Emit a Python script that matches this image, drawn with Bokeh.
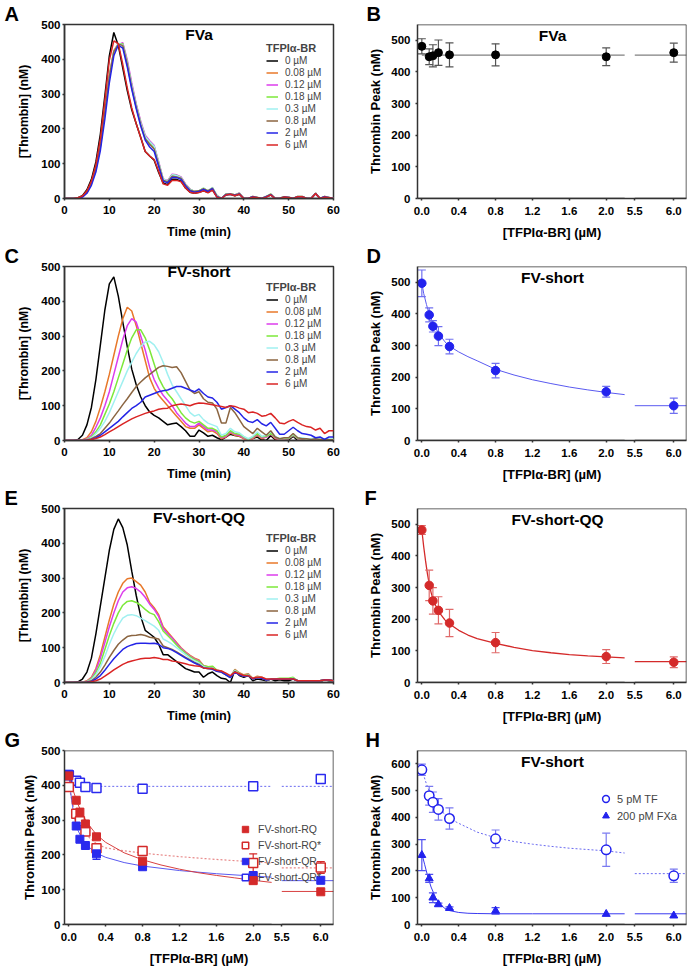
import numpy as np
from bokeh.plotting import figure
from bokeh.layouts import column, row
from bokeh.models import Label, Legend, LegendItem, FixedTicker, Span, Arrow, Range1d
from bokeh.embed import file_html
from bokeh.resources import INLINE

FONT = "Liberation Sans"
AX = "#333333"

# ---------------- time courses (min) ----------------
TIME = list(range(61))
CONC_LABELS = ["0 µM", "0.08 µM", "0.12 µM", "0.18 µM", "0.3 µM", "0.8 µM", "2 µM", "6 µM"]
CURVE_COLORS = ["#000000", "#E8782A", "#DC3CEC", "#7CE83A", "#A0F0F0", "#8B6541", "#2424E6", "#DA2424"]

# Panel A: FVa
A_0 = [0,0,0,2,8,25,55,105,185,295, 410,477,440,375,310,255,215,175,135,122, 110,75,45,40,55,55,50,30,18,15, 18,22,18,25,5,0,10,12,8,12, 0,0,5,2,0,5,10,0,0,5, 3,0,5,5,0,0,15,0,5,2, 0]
A_008 = [0,0,0,1,5,18,45,88,155,255, 355,425,445,440,388,322,265,215,178,162, 148,102,55,50,68,66,60,40,25,20, 22,28,22,30,8,0,12,14,10,15, 0,0,6,3,0,6,12,0,0,5, 4,0,6,6,0,0,15,0,6,3, 0]
A_012 = [0,0,0,1,5,17,42,82,148,245, 345,418,442,448,398,332,272,222,182,166, 152,106,56,51,70,68,62,42,27,20, 22,28,22,30,8,0,12,14,10,16, 0,0,6,3,0,6,12,0,0,5, 4,0,6,6,0,0,15,0,6,3, 0]
A_018 = [0,0,0,1,5,18,44,85,150,248, 348,420,444,445,392,326,268,218,178,162, 148,102,55,50,68,66,60,40,26,20, 22,30,22,30,8,0,13,14,10,15, 0,0,6,3,0,6,13,0,0,5, 4,0,6,6,0,0,15,0,6,3, 0]
A_03 = [0,0,0,1,5,18,44,86,152,250, 350,422,445,442,390,324,266,216,178,163, 150,103,56,50,68,66,60,40,26,20, 22,30,22,32,8,0,13,14,10,15, 0,0,6,3,0,6,12,0,0,5, 4,0,6,6,0,0,15,0,6,3, 0]
A_08 = [0,0,0,1,5,18,45,87,152,250, 350,422,443,440,386,318,262,212,172,156, 142,98,52,48,64,62,58,38,24,20, 22,28,22,30,6,0,12,13,10,14, 0,0,5,3,0,5,12,0,0,5, 3,0,5,5,0,0,14,0,5,2, 0]
A_2 = [0,0,0,1,4,15,38,76,138,228, 332,410,441,432,378,314,258,208,168,148, 135,92,50,45,60,60,55,36,22,18, 20,26,20,28,5,0,11,12,9,13, 0,0,5,2,0,5,11,0,0,4, 3,0,5,5,0,0,14,0,5,2, 0]
A_6 = [0,0,0,2,7,22,50,97,172,282, 398,453,445,385,318,260,215,175,135,122, 112,78,42,38,52,52,48,30,18,15, 17,22,16,24,4,0,10,12,8,12, 0,0,4,2,0,4,10,0,0,4, 3,0,5,5,0,0,14,0,4,2, 0]

# Panel C: FV-short
C_0 = [0,0,0,3,15,45,95,175,275,375, 450,470,415,340,270,205,160,125,100,82, 72,65,55,45,48,50,40,28,12,12, 30,22,12,15,8,2,10,18,14,12, 8,0,6,10,2,0,14,2,0,0, 2,12,0,0,0,0,0,0,0,0, 0]
C_008 = [0,0,0,0,2,8,25,55,95,140, 190,245,300,350,383,372,330,280,230,180, 150,130,115,100,85,70,55,40,35,35, 45,35,25,28,20,5,10,22,15,12, 5,0,5,15,5,10,18,5,3,5, 5,15,5,5,3,3,5,2,3,2, 2]
C_012 = [0,0,0,0,1,5,15,38,65,100, 140,190,240,290,330,350,340,300,260,210, 175,150,130,115,100,80,65,50,40,40, 50,40,30,30,25,8,12,25,18,15, 8,2,8,18,8,10,18,8,3,5, 5,15,5,5,3,3,5,2,3,2, 2]
C_018 = [0,0,0,0,1,4,10,25,45,75, 105,140,180,220,260,295,318,318,295,260, 220,180,155,135,120,100,80,65,55,50, 55,45,35,35,28,10,15,28,20,18, 10,3,10,20,10,12,20,10,4,6, 6,16,6,6,4,4,6,3,4,3, 3]
C_03 = [0,0,0,0,1,3,8,20,35,55, 80,110,140,170,200,225,250,270,283,285, 275,255,225,190,160,140,120,100,80,70, 75,60,50,45,40,15,20,35,25,22, 12,5,12,25,12,15,25,12,5,8, 8,18,8,8,5,5,8,4,5,4, 4]
C_08 = [0,0,0,0,1,2,5,12,20,35, 50,68,85,103,120,138,155,168,180,190, 200,210,215,213,210,212,195,170,145,135, 140,120,110,108,90,50,50,95,80,60, 40,30,20,35,25,15,28,10,5,8, 8,20,8,5,5,3,5,3,3,2, 2]
C_2 = [0,0,0,0,0,1,3,8,15,25, 35,45,55,68,80,92,100,110,125,130, 135,140,143,145,150,155,155,150,145,140, 148,135,125,122,110,90,95,100,90,80, 65,55,52,60,48,42,52,35,18,18, 28,38,28,20,18,15,8,10,3,10, 10]
C_6 = [0,0,0,0,0,1,3,6,10,17, 25,32,40,48,55,62,68,73,78,82, 85,90,92,93,100,103,105,103,100,105, 108,107,105,103,100,98,95,100,98,93, 90,80,82,78,70,72,78,65,50,48, 55,60,52,45,40,38,30,35,20,28, 28]

# Panel E: FV-short-QQ
E_0 = [0,0,0,2,10,30,70,140,220,300, 380,440,470,445,395,320,250,190,150,140, 130,110,80,80,70,60,50,40,35,30, 30,15,25,30,20,12,10,0,35,20, 15,20,5,10,8,5,10,5,8,5, 5,10,5,3,3,5,5,3,8,5, 5]
E_008 = [0,0,0,0,1,5,15,40,80,130, 180,225,260,285,298,300,290,280,260,230, 215,195,160,145,130,115,100,88,78,70, 65,48,45,45,35,33,25,15,38,28, 22,25,12,18,15,8,10,10,10,10, 10,12,5,5,5,5,5,5,8,8, 5]
E_012 = [0,0,0,0,1,4,12,35,70,115, 160,200,235,260,272,275,270,260,245,225, 210,190,155,140,128,112,98,86,76,68, 62,48,44,44,35,32,24,15,36,26, 20,24,10,16,14,8,10,10,10,10, 10,12,5,5,5,5,5,5,8,8, 5]
E_018 = [0,0,0,0,1,3,10,28,55,95, 135,170,200,222,233,235,230,222,210,200, 195,175,148,135,122,108,95,84,74,66, 60,48,45,47,35,32,24,15,36,26, 20,24,10,16,14,8,10,10,12,12, 12,15,5,5,5,5,5,5,8,8, 5]
E_03 = [0,0,0,0,1,2,8,22,45,75, 110,140,165,185,193,195,192,185,178,170, 162,150,125,118,110,100,90,80,70,62, 56,45,42,42,33,30,22,14,34,24, 18,22,10,15,13,8,10,10,10,10, 10,12,5,5,5,5,5,5,8,8, 5]
E_08 = [0,0,0,0,0,2,5,15,30,50, 72,92,110,122,132,135,136,138,135,130, 128,125,105,100,95,88,80,72,65,58, 52,42,40,40,32,30,22,14,32,23, 18,20,10,14,12,7,9,9,10,10, 10,11,5,5,5,5,5,5,8,7, 5]
E_2 = [0,0,0,0,0,1,3,10,20,35, 52,68,82,95,103,108,112,113,113,112, 113,110,100,98,93,86,78,70,63,56, 50,42,40,38,32,30,22,14,30,22, 18,20,10,14,12,7,9,9,9,9, 9,10,5,5,5,5,5,5,7,7, 5]
E_6 = [0,0,0,0,0,0,2,5,10,18, 27,36,44,52,58,62,65,68,70,70, 72,70,66,66,62,60,57,54,50,48, 47,42,40,40,35,33,27,20,30,25, 20,20,12,15,15,10,10,10,10,10, 10,10,5,5,5,5,5,5,7,7, 5]

A_SERIES = [A_0, A_008, A_012, A_018, A_03, A_08, A_2, A_6]
C_SERIES = [C_0, C_008, C_012, C_018, C_03, C_08, C_2, C_6]
E_SERIES = [E_0, E_008, E_012, E_018, E_03, E_08, E_2, E_6]

# ---------------- peak vs concentration ----------------
TFPI = [0.0, 0.08, 0.12, 0.18, 0.3, 0.8, 2.0, 6.0]
XTICK_VALUES = [0.0, 0.4, 0.8, 1.2, 1.6, 2.0, 5.5, 6.0]
XTICK_LABELS = ["0.0", "0.4", "0.8", "1.2", "1.6", "2.0", "5.5", "6.0"]

B_PEAK = [481, 448, 451, 461, 454, 454, 448, 461]
B_ERR = [24, 25, 35, 40, 38, 35, 28, 30]
B_FIT_X = [0.0, 2.2]
B_FIT_Y = [453, 453]
B_FIT2 = 453

D_PEAK = [497, 397, 361, 330, 297, 221, 154, 110]
D_ERR = [42, 22, 18, 30, 23, 23, 17, 24]
D_FIT_X = [0, 0.02, 0.05, 0.08, 0.12, 0.18, 0.25, 0.3, 0.4, 0.5, 0.6, 0.8, 1.0, 1.2, 1.4, 1.6, 1.8, 2.0, 2.2]
D_FIT_Y = [497, 465, 430, 400, 370, 340, 312, 298, 280, 265, 252, 225, 207, 192, 180, 169, 160, 152, 145]
D_FIT2 = 110

F_PEAK = [482, 307, 258, 228, 188, 126, 82, 64]
F_ERR = [14, 48, 42, 43, 43, 32, 22, 17]
F_FIT_X = [0, 0.02, 0.04, 0.06, 0.08, 0.1, 0.13, 0.18, 0.25, 0.3, 0.4, 0.5, 0.6, 0.8, 1.0, 1.2, 1.4, 1.6, 1.8, 2.0, 2.2]
F_FIT_Y = [482, 430, 385, 345, 312, 285, 255, 225, 198, 185, 165, 150, 139, 124, 111, 101, 94, 88, 84, 81, 78]
F_FIT2 = 66

G_RQ = [427, 357, 323, 289, 252, 182, 126, 94]
G_RQS = [395, 318, 297, 267, 219, 211, 177, 164]
G_QR = [432, 283, 245, 227, 203, 166, 140, 127]
G_QRS = [429, 413, 407, 395, 392, 390, 397, 418]
G_RQ_ERR = [0, 0, 0, 0, 0, 0, 8, 0]
G_RQS_ERR = [0, 0, 0, 0, 0, 0, 26, 17]
G_QR_ERR = [0, 0, 0, 0, 16, 0, 12, 0]
G_RQ_FIT_X = [0, 0.03, 0.06, 0.1, 0.15, 0.2, 0.3, 0.4, 0.6, 0.8, 1.0, 1.2, 1.4, 1.6, 1.8, 2.0, 2.2]
G_RQ_FIT_Y = [430, 400, 375, 345, 315, 292, 258, 236, 206, 186, 171, 159, 149, 141, 134, 127, 121]
G_RQ_FIT2 = 95
G_RQS_FIT_X = [0, 0.03, 0.06, 0.1, 0.15, 0.2, 0.3, 0.4, 0.6, 0.8, 1.2, 1.6, 2.0, 2.2]
G_RQS_FIT_Y = [400, 360, 330, 300, 275, 255, 232, 220, 212, 205, 195, 187, 180, 177]
G_RQS_FIT2 = 163
G_QR_FIT_X = [0, 0.02, 0.04, 0.06, 0.08, 0.1, 0.15, 0.2, 0.3, 0.4, 0.6, 0.8, 1.2, 1.6, 2.0, 2.2]
G_QR_FIT_Y = [432, 380, 340, 310, 288, 270, 243, 226, 205, 193, 178, 168, 155, 146, 139, 136]
G_QR_FIT2 = 126
G_QRS_FIT_X = [0, 0.05, 0.1, 0.2, 2.2]
G_QRS_FIT_Y = [428, 408, 400, 397, 397]
G_QRS_FIT2 = 397

H_TF = [578, 481, 457, 430, 396, 320, 279, 182]
H_TF_ERR = [21, 35, 38, 40, 40, 33, 62, 25]
H_FXA = [259, 172, 100, 75, 61, 51, 39, 33]
H_FXA_ERR = [58, 15, 18, 5, 5, 12, 0, 0]
H_TF_FIT_X = [0, 0.05, 0.1, 0.15, 0.2, 0.3, 0.4, 0.6, 0.8, 1.0, 1.2, 1.4, 1.6, 1.8, 2.0, 2.2]
H_TF_FIT_Y = [578, 525, 480, 450, 428, 396, 378, 345, 324, 310, 300, 292, 285, 280, 275, 267]
H_TF_FIT2 = 190
H_FXA_FIT_X = [0, 0.03, 0.06, 0.1, 0.15, 0.2, 0.25, 0.3, 0.4, 0.5, 0.6, 0.8, 1.2, 2.2]
H_FXA_FIT_Y = [265, 225, 185, 140, 100, 75, 60, 52, 45, 42, 41, 40, 40, 40]
H_FXA_FIT2 = 40

# broken x axis mapping
BREAK_LO, BREAK_HI = 2.2, 5.5
GAP = 0.11
SCALE2 = 0.846
U_START, U_END = -0.047, 2.871
SEG2_X = [5.5, 6.165]


def u(x):
    x = np.asarray(x, dtype=float)
    return np.where(x <= BREAK_LO, x, BREAK_LO + GAP + (x - BREAK_HI) * SCALE2)


LW, RW = 344, 344
ROW_H = 242
TOP = 23
BOT = 40
FH = ROW_H - TOP - BOT


def style_axis(ax, label, label_size, label_standoff, tick_standoff):
    ax.axis_label = label
    ax.axis_line_color = AX
    ax.axis_line_width = 1.5
    ax.major_tick_line_color = AX
    ax.major_tick_line_width = 1.5
    ax.major_tick_in = 0
    ax.major_tick_out = 2
    ax.minor_tick_line_color = None
    ax.major_label_text_font = FONT
    ax.major_label_text_font_style = "bold"
    ax.major_label_text_font_size = "11.5px"
    ax.major_label_text_color = "black"
    ax.major_label_text_line_height = 1.0
    ax.major_label_standoff = tick_standoff
    ax.axis_label_text_font = FONT
    ax.axis_label_text_font_style = "bold"
    ax.axis_label_text_font_size = label_size
    ax.axis_label_text_color = "black"
    ax.axis_label_text_line_height = 1.0
    ax.axis_label_standoff = label_standoff


def add_text(p, text, x, y, size, bold=True, align="left", baseline="alphabetic"):
    p.add_layout(Label(x=x, y=y, x_units="screen", y_units="screen", text=text,
                       text_font=FONT, text_font_size=size,
                       text_font_style="bold" if bold else "normal",
                       text_align=align, text_baseline=baseline, text_color="black"))


def base_fig(w, left, right, xr, yr, letter, letter_off):
    p = figure(width=w, height=ROW_H, x_range=xr, y_range=yr, output_backend="svg",
               toolbar_location=None, min_border_left=left, min_border_right=right,
               min_border_top=TOP, min_border_bottom=BOT)
    p.grid.visible = False
    p.background_fill_color = "white"
    p.border_fill_color = "white"
    p.title.text = letter
    p.title.align = "left"
    p.title.offset = letter_off
    p.title.standoff = 0
    p.title.text_font = FONT
    p.title.text_font_size = "20px"
    p.title.text_font_style = "bold"
    p.title.text_color = "black"
    return p


def broken_x(p, ymax):
    p.outline_line_color = None
    p.xaxis.ticker = FixedTicker(ticks=[float(v) for v in u(XTICK_VALUES)],
                                 minor_ticks=[float(u(BREAK_LO)), float(u(BREAK_HI))])
    p.xaxis.major_label_overrides = {float(k): s for k, s in zip(u(XTICK_VALUES), XTICK_LABELS)}
    xa = p.xaxis[0]
    xa.axis_line_color = None
    xa.minor_tick_line_color = AX
    xa.minor_tick_line_width = 1.3
    xa.minor_tick_in = 4
    xa.minor_tick_out = 3
    p.add_layout(Span(location=ymax, dimension="width", line_color=AX, line_width=1.5))
    p.add_layout(Span(location=U_END, dimension="height", line_color=AX, line_width=1.5))
    p.add_layout(Arrow(end=None, x_start=U_START, y_start=0, x_end=float(u(BREAK_LO)), y_end=0,
                       line_color=AX, line_width=1.5))
    p.add_layout(Arrow(end=None, x_start=float(u(BREAK_HI)), y_start=0, x_end=U_END, y_end=0,
                       line_color=AX, line_width=1.5))


def time_panel(letter, title, series, title_dy, leg_vy):
    p = base_fig(LW, 64, 11, Range1d(0, 60), Range1d(0, 500), letter, -60)
    p.outline_line_color = AX
    p.outline_line_width = 1.5
    p.xaxis.ticker = FixedTicker(ticks=[0, 10, 20, 30, 40, 50, 60])
    p.yaxis.ticker = FixedTicker(ticks=[0, 100, 200, 300, 400, 500])
    style_axis(p.xaxis[0], "Time (min)", "12.7px", 8, 5)
    style_axis(p.yaxis[0], "[Thrombin] (nM)", "12.2px", 7, 2)
    items = []
    for lab, col, ys in zip(CONC_LABELS, CURVE_COLORS, series):
        r = p.line(TIME, ys, line_color=col, line_width=1.5)
        items.append(LegendItem(label=lab, renderers=[r]))
    leg = Legend(items=items, location=(202, leg_vy), title="TFPIα-BR",
                 title_text_font=FONT, title_text_font_style="bold", title_text_font_size="11px",
                 title_standoff=1, label_text_font=FONT, label_text_font_size="10px",
                 glyph_width=12, glyph_height=11, label_height=11, spacing=1,
                 label_standoff=7, padding=0, margin=0, border_line_color=None,
                 background_fill_alpha=0)
    p.add_layout(leg)
    add_text(p, title, 134.5, FH - title_dy, "15.5px", align="center", baseline="middle")
    return p


def conc_panel(letter, title, ymax, yticks, title_x=135, letter_off=-51):
    p = base_fig(RW, 73, 2, Range1d(U_START, U_END), Range1d(0, ymax), letter, letter_off)
    broken_x(p, ymax)
    p.yaxis.ticker = FixedTicker(ticks=yticks)
    style_axis(p.xaxis[0], "[TFPIα-BR] (µM)", "13px", 7, 5)
    style_axis(p.yaxis[0], "Thrombin Peak (nM)", "13px", 5, 5)
    if title:
        add_text(p, title, title_x, FH - 16, "15.5px", align="center", baseline="middle")
    return p


def fit(p, fx, fy, level, color, width=1.0, dash="solid"):
    p.line(u(fx), fy, line_color=color, line_width=width, line_dash=dash)
    p.line(u(SEG2_X), [level, level], line_color=color, line_width=width, line_dash=dash)


def errbars(p, ys, es, color, cap=8, width=1.2):
    keep = [i for i, e in enumerate(es) if e > 0]
    xx = u([TFPI[i] for i in keep])
    lo = [ys[i] - es[i] for i in keep]
    hi = [ys[i] + es[i] for i in keep]
    p.segment(x0=xx, y0=lo, x1=xx, y1=hi, line_color=color, line_width=width)
    p.scatter(xx, lo, marker="dash", size=cap, line_color=color, line_width=width)
    p.scatter(xx, hi, marker="dash", size=cap, line_color=color, line_width=width)


# ---- A, C, E ----
pA = time_panel("A", "FVa", A_SERIES, 15, 48)
pC = time_panel("C", "FV-short", C_SERIES, 10, 51)
pE = time_panel("E", "FV-short-QQ", E_SERIES, 14, 42)

# ---- B ----
pB = conc_panel("B", "FVa", 550, [0, 100, 200, 300, 400, 500])
fit(pB, B_FIT_X, B_FIT_Y, B_FIT2, "#808080", 1.2)
errbars(pB, B_PEAK, B_ERR, "#555555")
pB.scatter(u(TFPI), B_PEAK, marker="circle", size=8, fill_color="black", line_color="black")

# ---- D ----
pD = conc_panel("D", "FV-short", 550, [0, 100, 200, 300, 400, 500])
fit(pD, D_FIT_X, D_FIT_Y, D_FIT2, "#5A5AF0", 1.0)
errbars(pD, D_PEAK, D_ERR, "#7070F0")
pD.scatter(u(TFPI), D_PEAK, marker="circle", size=8.5, fill_color="#2222EE", line_color="#2222EE")

# ---- F ----
pF = conc_panel("F", "FV-short-QQ", 550, [0, 100, 200, 300, 400, 500], title_x=140, letter_off=-53)
fit(pF, F_FIT_X, F_FIT_Y, F_FIT2, "#D42A2A", 1.3)
errbars(pF, F_PEAK, F_ERR, "#E06A6A")
pF.scatter(u(TFPI), F_PEAK, marker="circle", size=8.5, fill_color="#D42A2A", line_color="#D42A2A")

# ---- G ----
RED, BLUE = "#D42A2A", "#2A2AEE"
pG = base_fig(LW, 64, 11, Range1d(U_START, U_END), Range1d(0, 500), "G", -60)
broken_x(pG, 500)
pG.yaxis.ticker = FixedTicker(ticks=[0, 100, 200, 300, 400, 500])
style_axis(pG.xaxis[0], "[TFPIα-BR] (µM)", "13px", 7, 5)
style_axis(pG.yaxis[0], "Thrombin Peak (nM)", "13px", 1, 2)
fit(pG, G_QRS_FIT_X, G_QRS_FIT_Y, G_QRS_FIT2, "#6A6AF0", 1.0, "2 2")
fit(pG, G_RQS_FIT_X, G_RQS_FIT_Y, G_RQS_FIT2, "#E88A8A", 1.2, "2 2")
fit(pG, G_QR_FIT_X, G_QR_FIT_Y, G_QR_FIT2, "#5A5AF0", 1.0)
fit(pG, G_RQ_FIT_X, G_RQ_FIT_Y, G_RQ_FIT2, "#D84040", 1.0)
errbars(pG, G_RQS, G_RQS_ERR, RED)
errbars(pG, G_QR, G_QR_ERR, BLUE)
errbars(pG, G_RQ, G_RQ_ERR, RED)
rQRS = pG.scatter(u(TFPI), G_QRS, marker="square", size=9, fill_color="white", line_color=BLUE, line_width=1.5)
rRQS = pG.scatter(u(TFPI), G_RQS, marker="square", size=9, fill_color="white", line_color=RED, line_width=1.5)
rQR = pG.scatter(u(TFPI), G_QR, marker="square", size=8, fill_color=BLUE, line_color=BLUE)
rRQ = pG.scatter(u(TFPI), G_RQ, marker="square", size=8, fill_color=RED, line_color=RED)
legG = Legend(items=[LegendItem(label="FV-short-RQ", renderers=[rRQ]),
                     LegendItem(label="FV-short-RQ*", renderers=[rRQS]),
                     LegendItem(label="FV-short-QR", renderers=[rQR]),
                     LegendItem(label="FV-short-QR*", renderers=[rQRS])],
              location=(173, 39), label_text_font=FONT, label_text_font_size="10.5px",
              glyph_width=16, glyph_height=16, label_height=16, spacing=0, label_standoff=5,
              padding=0, margin=0, border_line_color=None, background_fill_alpha=0)
pG.add_layout(legG)

# ---- H ----
pH = conc_panel("H", "FV-short", 650, [0, 100, 200, 300, 400, 500, 600], letter_off=-52)
fit(pH, H_TF_FIT_X, H_TF_FIT_Y, H_TF_FIT2, "#6A6AF0", 1.0, "2 2")
fit(pH, H_FXA_FIT_X, H_FXA_FIT_Y, H_FXA_FIT2, "#3A3AF0", 1.0)
errbars(pH, H_TF, H_TF_ERR, "#7A7AF0")
errbars(pH, H_FXA, H_FXA_ERR, "#5050F0")
rTF = pH.scatter(u(TFPI), H_TF, marker="circle", size=9.5, fill_color="white", line_color="#2222EE", line_width=1.5)
rFX = pH.scatter(u(TFPI), H_FXA, marker="triangle", size=8, fill_color="#2222EE", line_color="#2222EE")
legH = Legend(items=[LegendItem(label="5 pM TF", renderers=[rTF]),
                     LegendItem(label="200 pM FXa", renderers=[rFX])],
              location=(180, 100), label_text_font=FONT, label_text_font_size="11px",
              glyph_width=17, glyph_height=17, label_height=17, spacing=0, label_standoff=3,
              padding=0, margin=0, border_line_color=None, background_fill_alpha=0)
pH.add_layout(legH)

layout = column(row(pA, pB), row(pC, pD), row(pE, pF), row(pG, pH))
open("out.html", "w").write(file_html(layout, INLINE))
